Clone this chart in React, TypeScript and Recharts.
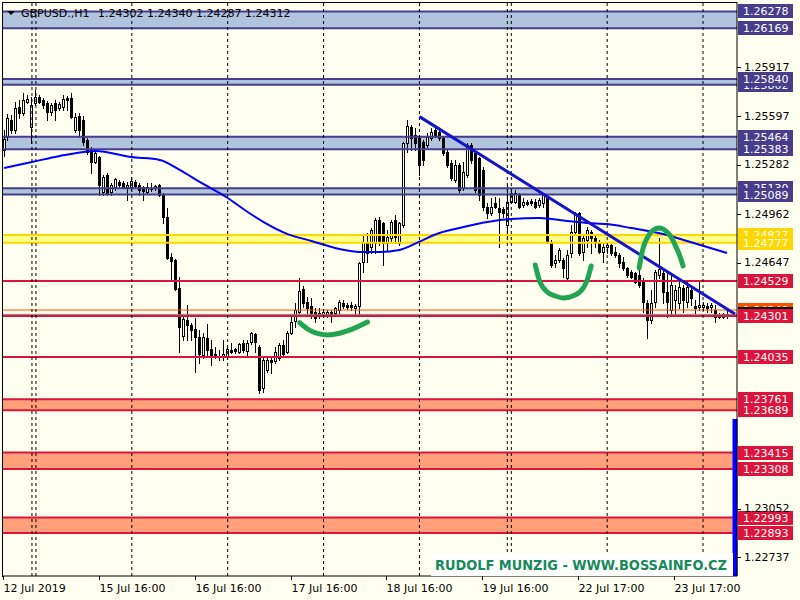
import { ComposedChart, Bar, Line, XAxis, YAxis, ReferenceLine, ReferenceArea } from "recharts";

const FONT = "DejaVu Sans";
const BG = "#fffff0";

// GBPUSD H1 candles, bar 0 = 12 Jul 2019
const opens = [
  1.25379, 1.25463, 1.25573, 1.25508, 1.25658, 1.25619, 1.2569, 1.25528, 1.25683, 1.25722,
  1.25703, 1.25683, 1.25625, 1.25683, 1.25651, 1.25658, 1.25716, 1.25716, 1.25508, 1.25599,
  1.25573, 1.25443, 1.25379, 1.25301, 1.25333, 1.25106, 1.25216, 1.25106, 1.25138, 1.25171,
  1.25164, 1.25138, 1.25138, 1.25171, 1.25151, 1.25138, 1.25106, 1.25135, 1.25132, 1.25151,
  1.25093, 1.24944, 1.24684, 1.24665, 1.24483, 1.24171, 1.24275, 1.24243, 1.24217, 1.24165,
  1.24048, 1.24158, 1.24087, 1.24055, 1.24042, 1.24035, 1.24035, 1.24081, 1.24087, 1.24068,
  1.24126, 1.24074, 1.24132, 1.24184, 1.241, 1.23834, 1.23951, 1.24016, 1.24009, 1.24029,
  1.24113, 1.24068, 1.24191, 1.24269, 1.24327, 1.24476, 1.24392, 1.24366, 1.24327, 1.24308,
  1.24308, 1.24314, 1.24327, 1.24321, 1.2434, 1.24386, 1.24373, 1.24373, 1.24356, 1.24366,
  1.24652, 1.24781, 1.24749, 1.24775, 1.24924, 1.24905, 1.24775, 1.24807, 1.24924, 1.24775,
  1.24892, 1.25424, 1.25528, 1.25476, 1.25456, 1.2543, 1.25411, 1.25456, 1.25508, 1.25495,
  1.25456, 1.25366, 1.25294, 1.25184, 1.25281, 1.25132, 1.25216, 1.25411, 1.25359, 1.25327,
  1.25249, 1.25009, 1.2497, 1.25034, 1.25002, 1.24996, 1.24892, 1.25041, 1.25041, 1.25086,
  1.25021, 1.25041, 1.25047, 1.25041, 1.25021, 1.25034, 1.2508, 1.24781, 1.24645, 1.24665,
  1.24665, 1.24548, 1.2471, 1.24846, 1.2497, 1.24717, 1.24794, 1.24846, 1.24807, 1.24775,
  1.24717, 1.24749, 1.24762, 1.24717, 1.24697, 1.24652, 1.24613, 1.24587, 1.2458, 1.24567,
  1.24535, 1.24386, 1.24275, 1.24392, 1.24567, 1.2458, 1.24457, 1.2434, 1.24405, 1.24386,
  1.24483, 1.24392, 1.2447, 1.24366, 1.2436, 1.2436, 1.24366, 1.2436, 1.2434, 1.24308,
  1.24314, 1.24302,
];

const highs = [
  1.25508, 1.25612, 1.25606, 1.2569, 1.25703, 1.25748, 1.25735, 1.25722, 1.25768, 1.25735,
  1.25716, 1.25696, 1.25683, 1.25703, 1.2569, 1.25735, 1.25729, 1.25748, 1.25619, 1.25619,
  1.25599, 1.25456, 1.25398, 1.25379, 1.2534, 1.25216, 1.25229, 1.25164, 1.25197, 1.25184,
  1.25177, 1.25171, 1.25203, 1.25184, 1.25164, 1.25145, 1.25164, 1.25164, 1.25151, 1.25158,
  1.25099, 1.25002, 1.2471, 1.24671, 1.24554, 1.24295, 1.24373, 1.24256, 1.24288, 1.2421,
  1.24191, 1.24249, 1.24145, 1.241, 1.24081, 1.24145, 1.241, 1.24126, 1.24094, 1.24126,
  1.24145, 1.24145, 1.24197, 1.24191, 1.24113, 1.24029, 1.24035, 1.24035, 1.241, 1.24126,
  1.24145, 1.24204, 1.24308, 1.24386, 1.24548, 1.24496, 1.24424, 1.24418, 1.24353, 1.24353,
  1.2434, 1.2434, 1.2434, 1.2436, 1.24405, 1.24405, 1.24386, 1.24392, 1.24379, 1.24652,
  1.24827, 1.2484, 1.24872, 1.24937, 1.24944, 1.24911, 1.24859, 1.24924, 1.24957, 1.24911,
  1.2543, 1.25573, 1.25541, 1.25521, 1.25463, 1.25443, 1.25489, 1.25521, 1.25541, 1.25521,
  1.25463, 1.25379, 1.25314, 1.25314, 1.25294, 1.25301, 1.25424, 1.25424, 1.25366, 1.25333,
  1.25268, 1.25034, 1.25067, 1.25073, 1.25067, 1.25009, 1.25151, 1.25132, 1.25119, 1.25099,
  1.25067, 1.25054, 1.2506, 1.2506, 1.25067, 1.25099, 1.25093, 1.24794, 1.24697, 1.24742,
  1.24678, 1.2473, 1.24892, 1.24976, 1.24976, 1.24827, 1.24879, 1.24859, 1.24827, 1.24794,
  1.24781, 1.24775, 1.24768, 1.24749, 1.2471, 1.24684, 1.24619, 1.246, 1.24587, 1.246,
  1.24548, 1.24405, 1.2447, 1.246, 1.24807, 1.246, 1.24587, 1.2458, 1.24502, 1.24535,
  1.24502, 1.24522, 1.24483, 1.24405, 1.24528, 1.24392, 1.24386, 1.24386, 1.24373, 1.24321,
  1.24321, 1.2434,
];

const lows = [
  1.2534, 1.25443, 1.25489, 1.25489, 1.25586, 1.25606, 1.25683, 1.25424, 1.2567, 1.25683,
  1.25651, 1.25573, 1.25606, 1.25573, 1.25638, 1.25638, 1.25638, 1.25586, 1.25495, 1.25463,
  1.25411, 1.25353, 1.25229, 1.25294, 1.25086, 1.25086, 1.25086, 1.25086, 1.25119, 1.25138,
  1.25132, 1.25054, 1.25119, 1.25138, 1.25086, 1.25054, 1.25099, 1.25112, 1.25119, 1.2508,
  1.24905, 1.24671, 1.24535, 1.2447, 1.24068, 1.24145, 1.24145, 1.24145, 1.23938, 1.23996,
  1.24029, 1.24035, 1.23983, 1.24029, 1.24016, 1.24016, 1.24029, 1.24061, 1.24061, 1.24061,
  1.24068, 1.24048, 1.24119, 1.24068, 1.23801, 1.23808, 1.23938, 1.23931, 1.23996, 1.24016,
  1.24048, 1.24061, 1.24184, 1.2423, 1.24321, 1.2436, 1.24308, 1.24288, 1.24262, 1.24288,
  1.24295, 1.24295, 1.24262, 1.24308, 1.24321, 1.24353, 1.24347, 1.2434, 1.24308, 1.24308,
  1.24587, 1.24652, 1.2471, 1.2471, 1.24762, 1.24632, 1.2473, 1.24781, 1.24775, 1.24762,
  1.24879, 1.25366, 1.25379, 1.25379, 1.25216, 1.25281, 1.25398, 1.25443, 1.25463, 1.25443,
  1.25346, 1.25268, 1.25184, 1.25171, 1.25106, 1.25119, 1.25203, 1.25294, 1.25106, 1.25054,
  1.24989, 1.24937, 1.24957, 1.25002, 1.24749, 1.24944, 1.24807, 1.25034, 1.25034, 1.25002,
  1.25009, 1.25021, 1.25021, 1.25002, 1.25009, 1.25009, 1.24775, 1.24619, 1.24619, 1.24652,
  1.24554, 1.24535, 1.24684, 1.24827, 1.24697, 1.24665, 1.24749, 1.2471, 1.24749, 1.2471,
  1.24652, 1.2471, 1.24697, 1.24684, 1.24619, 1.246, 1.24554, 1.24548, 1.24515, 1.24489,
  1.24327, 1.24158, 1.24256, 1.2436, 1.24548, 1.24386, 1.24295, 1.24308, 1.24308, 1.24353,
  1.24327, 1.2436, 1.24373, 1.24321, 1.2434, 1.2434, 1.24327, 1.24327, 1.24262, 1.24288,
  1.24288, 1.24287,
];

const closes = [
  1.2545, 1.25586, 1.25508, 1.25651, 1.25619, 1.25703, 1.25709, 1.2567, 1.25722, 1.2569,
  1.2567, 1.25625, 1.2567, 1.25638, 1.25677, 1.25709, 1.25703, 1.25593, 1.25593, 1.25508,
  1.2543, 1.25366, 1.25301, 1.25359, 1.25151, 1.25203, 1.25099, 1.25151, 1.2519, 1.25151,
  1.25138, 1.25151, 1.25177, 1.25145, 1.25119, 1.25112, 1.25138, 1.25128, 1.25145, 1.25086,
  1.24944, 1.24678, 1.24658, 1.24476, 1.2423, 1.24282, 1.24243, 1.2421, 1.24165, 1.24055,
  1.24165, 1.24081, 1.24048, 1.24042, 1.24032, 1.24055, 1.24087, 1.24068, 1.24074, 1.24119,
  1.24081, 1.24126, 1.24191, 1.24132, 1.23821, 1.24016, 1.24016, 1.24003, 1.24068, 1.24113,
  1.24055, 1.24191, 1.24262, 1.2434, 1.24463, 1.24386, 1.24353, 1.24321, 1.24288, 1.24321,
  1.24327, 1.24327, 1.24308, 1.24353, 1.24392, 1.24366, 1.2436, 1.2436, 1.24366, 1.24645,
  1.24781, 1.2471, 1.24859, 1.24924, 1.24781, 1.24775, 1.24814, 1.24911, 1.24814, 1.24905,
  1.25424, 1.25534, 1.25456, 1.25424, 1.25281, 1.25314, 1.25463, 1.25495, 1.25476, 1.25456,
  1.25359, 1.25281, 1.25197, 1.25281, 1.25119, 1.25236, 1.25411, 1.25314, 1.25119, 1.25086,
  1.25009, 1.2497, 1.25009, 1.25009, 1.24976, 1.2497, 1.25041, 1.25099, 1.25099, 1.25009,
  1.25041, 1.25031, 1.25034, 1.25009, 1.25054, 1.25086, 1.24781, 1.24632, 1.24665, 1.2473,
  1.24613, 1.24697, 1.24846, 1.2497, 1.2471, 1.24807, 1.24859, 1.24807, 1.24775, 1.24717,
  1.24749, 1.24762, 1.2471, 1.24697, 1.24645, 1.24613, 1.24567, 1.24554, 1.24522, 1.24502,
  1.24392, 1.24275, 1.24386, 1.24587, 1.24606, 1.24457, 1.24392, 1.24502, 1.2447, 1.24489,
  1.24405, 1.24489, 1.24418, 1.24353, 1.24373, 1.24373, 1.24353, 1.24373, 1.24295, 1.24295,
  1.24295, 1.24312,
];

// moving average, read at a few bars
const maBars = [0, 7, 14, 20, 23, 28, 31, 39, 44, 49, 56, 61, 65, 71, 77, 84, 89, 94, 99, 104, 109, 114, 121, 127, 134, 141, 146, 151, 157, 166, 171, 176, 181];
const maValues = [1.25262, 1.25301, 1.2534, 1.25366, 1.25372, 1.25353, 1.25336, 1.25314, 1.25249, 1.25171, 1.25067, 1.24976, 1.24911, 1.24833, 1.24788, 1.24736, 1.24717, 1.24717, 1.2473, 1.24784, 1.2484, 1.24872, 1.24911, 1.24931, 1.24937, 1.24918, 1.24905, 1.24898, 1.24872, 1.24827, 1.24788, 1.24749, 1.2471];

// hand drawn green arcs
const arc1Bars = [74, 76, 78, 81, 84, 87, 91];
const arc1Values = [1.24258, 1.24217, 1.24191, 1.24178, 1.24189, 1.24214, 1.24262];
const arc2Bars = [133, 134, 136, 138, 140, 143, 145, 146, 147];
const arc2Values = [1.24632, 1.24535, 1.24457, 1.24431, 1.24418, 1.24437, 1.24483, 1.24535, 1.24626];
const arc3Bars = [159, 160, 161, 162, 164, 166, 167, 168, 169, 170];
const arc3Values = [1.24613, 1.24743, 1.24807, 1.24846, 1.24872, 1.24846, 1.24814, 1.24762, 1.24704, 1.24626];

// trend line
const trendStart = { bar: 104, price: 1.25595 };
const trendEnd = { bar: 183, price: 1.24314 };

const blueZones = [[1.26278, 1.26169], [1.2584, 1.25802], [1.25464, 1.25383], [1.2513, 1.25089]];
const yellowZones = [[1.24827, 1.24777]];
const redZones = [[1.23761, 1.23689], [1.23415, 1.23308], [1.22993, 1.22893]];
const redLevels = [1.24529, 1.24301, 1.24035];
const askPrice = 1.2434;
const bidPrice = 1.24312;

// price tags on the right scale, in drawing order
const tagPrices = [1.26278, 1.26169, 1.25802, 1.2584, 1.25464, 1.25383, 1.2513, 1.25089, 1.24827, 1.24777, 1.24529, 1.2434, 1.24312, 1.24301, 1.24035, 1.23761, 1.23689, 1.23415, 1.23308, 1.22993, 1.22893];
const tagColors = ["#483d8b", "#483d8b", "#483d8b", "#483d8b", "#483d8b", "#483d8b", "#483d8b", "#483d8b", "#ffd700", "#ffd700", "#dc143c", "#ff5000", "#000000", "#dc143c", "#dc143c", "#dc143c", "#dc143c", "#dc143c", "#dc143c", "#dc143c", "#dc143c"];

// scale labels that are not covered by a tag
const priceTicks = [1.25917, 1.25597, 1.25282, 1.24962, 1.24647, 1.23052, 1.22737];
const timeTickBars = [0, 24, 48, 72, 96, 120, 144, 168];
const timeTickLabels = ["12 Jul 2019", "15 Jul 16:00", "16 Jul 16:00", "17 Jul 16:00", "18 Jul 16:00", "19 Jul 16:00", "22 Jul 17:00", "23 Jul 17:00"];
const gridBars = [7, 8, 32, 56, 80, 104, 126, 127, 151, 175];

// blue marker on the right edge
const edgeBarTop = 1.23633;
const edgeBarBottom = 1.22614;

const SLOTS = 184;

const pick = (bars: number[], vals: number[], i: number) => {
  const k = bars.indexOf(i);
  return k >= 0 ? vals[k] : null;
};

const data = Array.from({ length: SLOTS }, (_, i) => {
  const has = i < opens.length;
  return {
    i,
    o: has ? opens[i] : null,
    h: has ? highs[i] : null,
    l: has ? lows[i] : null,
    c: has ? closes[i] : null,
    range: has ? [lows[i], highs[i]] : null,
    ma: pick(maBars, maValues, i),
    arc1: pick(arc1Bars, arc1Values, i),
    arc2: pick(arc2Bars, arc2Values, i),
    arc3: pick(arc3Bars, arc3Values, i),
  };
});

const Candle = (props: any) => {
  const { x, y, width, height, payload } = props;
  if (!payload || payload.o == null) return null;
  const { o, h, l, c } = payload;
  const yTop = Math.min(y, y + height);
  const hPx = Math.abs(height);
  const py = (p: number) => yTop + (h === l ? 0 : ((h - p) / (h - l)) * hPx);
  const cx = Math.round(x + width / 2);
  const top = Math.round(py(Math.max(o, c)));
  const bot = Math.round(py(Math.min(o, c)));
  const bull = c > o;
  return (
    <g>
      <line x1={cx + 0.5} x2={cx + 0.5} y1={Math.round(yTop)} y2={Math.round(yTop + hPx) + 1} stroke="#000" strokeWidth={1} />
      <rect x={cx - 0.5} y={top + 0.5} width={2} height={Math.max(bot - top, 0)} fill={bull ? "#ffffff" : "#000000"} stroke="#000" strokeWidth={1} />
    </g>
  );
};

const PriceTag = (props: any) => {
  const { viewBox, text, bg } = props;
  if (!viewBox) return null;
  const right = viewBox.x + viewBox.width;
  const y = Math.round(viewBox.y);
  return (
    <g>
      <rect x={right + 1} y={y - 7} width={55} height={14} fill={bg} />
      <text x={right + 6} y={y} dominantBaseline="central" fill="#ffffff" fontSize={11} fontFamily={FONT}>
        {text}
      </text>
    </g>
  );
};

const PriceTick = (props: any) => {
  const { x, y, payload } = props;
  return (
    <g>
      <line x1={x} x2={x + 4} y1={Math.round(y) + 0.5} y2={Math.round(y) + 0.5} stroke="#000" />
      <text x={x + 7} y={y} dominantBaseline="central" fill="#000" fontSize={11} fontFamily={FONT}>
        {payload.value.toFixed(5)}
      </text>
    </g>
  );
};

const TimeTick = (props: any) => {
  const { x, y, payload } = props;
  const k = timeTickBars.indexOf(payload.value);
  if (k < 0) return <g />;
  const tx = Math.round(x) - 0.5;
  return (
    <g>
      <line x1={tx} x2={tx} y1={y} y2={y + 4} stroke="#000" />
      <text x={tx} y={y + 15.5} fill="#000" fontSize={11} fontFamily={FONT}>
        {timeTickLabels[k]}
      </text>
    </g>
  );
};

export default function App() {
  return (
    <div style={{ position: "absolute", left: 0, top: 0, width: 800, height: 600, background: BG, overflow: "hidden" }}>
      <ComposedChart width={800} height={600} data={data} margin={{ top: 2, right: 0, bottom: 0, left: 2 }}>
        <XAxis
          dataKey="i"
          type="category"
          interval={0}
          height={24}
          tickSize={0}
          tickMargin={0}
          tickLine={false}
          axisLine={{ stroke: "#000" }}
          tick={<TimeTick />}
        />
        <YAxis
          orientation="right"
          type="number"
          width={63}
          domain={[1.22614, 1.26339]}
          allowDataOverflow
          ticks={priceTicks}
          tickSize={0}
          tickMargin={0}
          tickLine={false}
          axisLine={{ stroke: "#000" }}
          tick={<PriceTick />}
        />

        {blueZones.map(([a, b]) => (
          <ReferenceArea key={"bz" + a} y1={b} y2={a} fill="#b0c4de" fillOpacity={1} stroke="none" ifOverflow="visible" />
        ))}
        {yellowZones.map(([a, b]) => (
          <ReferenceArea key={"yz" + a} y1={b} y2={a} fill="#ffff8c" fillOpacity={1} stroke="none" ifOverflow="visible" />
        ))}
        {redZones.map(([a, b]) => (
          <ReferenceArea key={"rz" + a} y1={b} y2={a} fill="#ffa07a" fillOpacity={1} stroke="none" ifOverflow="visible" />
        ))}
        {blueZones.flat().map((p) => (
          <ReferenceLine key={"bl" + p} y={p} stroke="#483d8b" strokeWidth={2} ifOverflow="visible" />
        ))}
        {yellowZones.flat().map((p) => (
          <ReferenceLine key={"yl" + p} y={p} stroke="#ffd700" strokeWidth={2} ifOverflow="visible" />
        ))}
        {redZones.flat().map((p) => (
          <ReferenceLine key={"rl" + p} y={p} stroke="#dc143c" strokeWidth={2} ifOverflow="visible" />
        ))}
        <ReferenceLine y={askPrice} stroke="#ff5000" strokeWidth={1} ifOverflow="visible" />
        <ReferenceLine y={bidPrice} stroke="#808080" strokeWidth={1} ifOverflow="visible" />
        {redLevels.map((p) => (
          <ReferenceLine key={"lv" + p} y={p} stroke="#dc143c" strokeWidth={2} ifOverflow="visible" />
        ))}
        {gridBars.map((b) => (
          <ReferenceLine key={"g" + b} x={b} stroke="#000" strokeWidth={1} strokeDasharray="3 3" ifOverflow="visible" />
        ))}

        <Bar dataKey="range" barSize={3} shape={<Candle />} isAnimationActive={false} />
        <Line dataKey="ma" type="monotone" stroke="#0000ff" strokeWidth={2} dot={false} connectNulls isAnimationActive={false} />
        <ReferenceLine
          segment={[
            { x: trendStart.bar, y: trendStart.price },
            { x: trendEnd.bar, y: trendEnd.price },
          ]}
          stroke="#1414c8"
          strokeWidth={3}
          ifOverflow="visible"
        />
        {["arc1", "arc2", "arc3"].map((k) => (
          <Line key={k} dataKey={k} type="monotone" stroke="#22a552" strokeWidth={5} strokeLinecap="round" dot={false} connectNulls isAnimationActive={false} />
        ))}
        <ReferenceLine
          segment={[
            { x: SLOTS - 1, y: edgeBarTop },
            { x: SLOTS - 1, y: edgeBarBottom },
          ]}
          stroke="#0000ff"
          strokeWidth={5}
          ifOverflow="visible"
        />

        {tagPrices.map((p, k) => (
          <ReferenceLine
            key={"t" + k}
            y={p}
            stroke="none"
            ifOverflow="visible"
            label={<PriceTag text={p.toFixed(5)} bg={tagColors[k]} />}
          />
        ))}
      </ComposedChart>

      <svg width={800} height={600} style={{ position: "absolute", left: 0, top: 0, pointerEvents: "none" }}>
        <line x1={2.5} x2={2.5} y1={2} y2={577} stroke="#000" />
        <line x1={2} x2={737} y1={2.5} y2={2.5} stroke="#000" />
        <polygon points="7,11 15,11 11,15" fill="#000" />
        <text x={21} y={16.5} fontSize={11} fontFamily={FONT} fill="#000">
          GBPUSD.,H1
        </text>
        <text x={98} y={16.5} fontSize={11} fontFamily={FONT} fill="#000">
          1.24302 1.24340 1.24287 1.24312
        </text>
        <rect x={431} y={553} width={302} height={23} fill="#ffffff" />
        <text x={435} y={569.5} fontSize={14} fontWeight="bold" fontFamily={FONT} fill="#178a5a" textLength={292} lengthAdjust="spacingAndGlyphs">
          RUDOLF MUNZIG - WWW.BOSSAINFO.CZ
        </text>
      </svg>
    </div>
  );
}
